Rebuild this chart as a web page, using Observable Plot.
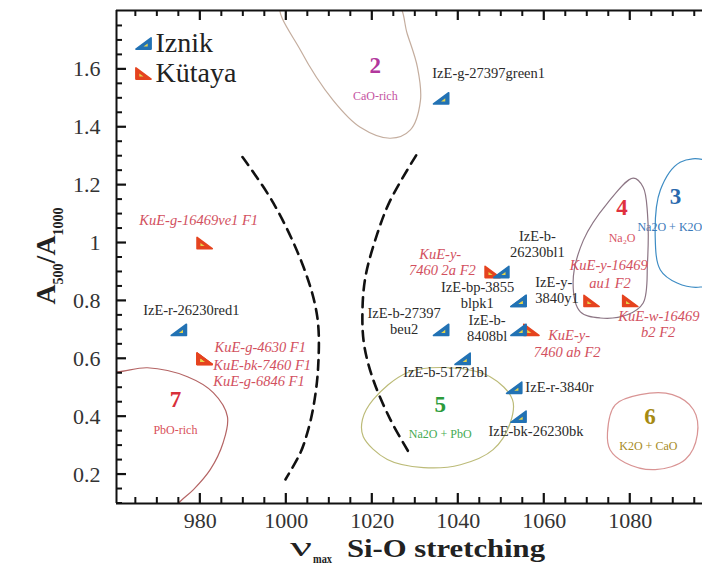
<!DOCTYPE html>
<html><head><meta charset="utf-8">
<script src="https://cdn.jsdelivr.net/npm/d3@7"></script>
<script src="https://cdn.jsdelivr.net/npm/@observablehq/plot@0.6"></script>
<style>body{margin:0;background:#fff}#chart svg{display:block}</style>
</head><body><div id="chart"></div>
<script>
// ---------- data ----------
const xDomain = [960.5, 1096.8];
const yDomain = [0.1, 1.8034];
const xMajorTicks = [980, 1000, 1020, 1040, 1060, 1080];
const xMinorTicks = d3.range(965, 1100, 5).filter(v => v % 20 !== 0);
const yMajorTicks = [0.2, 0.4, 0.6, 0.8, 1, 1.2, 1.4, 1.6];
const yMinorTicks = d3.range(2, 36).filter(i => i % 4 !== 0).map(i => i * 0.05);

const iznikSamples = ["IzE-g-27397green1","IzE-r-26230red1","IzE-b-26230bl1","IzE-bp-3855 blpk1","IzE-y-3840y1","IzE-b-27397 beu2","IzE-b-8408bl","IzE-b-51721bl","IzE-r-3840r","IzE-bk-26230bk"];
const iznikNu    = [1036, 975, 1050, 1054, 1054, 1036, 1054, 1041, 1053, 1054];
const iznikRatio = [1.5, 0.7, 0.9, 0.8, 0.8, 0.7, 0.7, 0.6, 0.5, 0.4];

const kutayaSamples = ["KuE-g-16469ve1 F1","KuE-g-4630 F1","KuE-bk-7460 F1","KuE-g-6846 F1","KuE-y-7460 2a F2","KuE-y-7460 ab F2","KuE-y-16469 au1 F2","KuE-w-16469 b2 F2"];
const kutayaNu    = [981, 981, 981, 981, 1048, 1057, 1071, 1080];
const kutayaRatio = [1.0, 0.6, 0.6, 0.6, 0.9, 0.7, 0.8, 0.8];

const legendNames = ["Iznik", "Kütaya"];

// annotation lines: [text, x, y, anchor]
const iznikNotes = [
  ["IzE-g-27397green1", 1033.95, 1.586, "start"],
  ["IzE-r-26230red1", 966.7, 0.766, "start"],
  ["IzE-b-27397", 1027.4, 0.7586, "middle"],
  ["beu2", 1027.4, 0.7034, "middle"],
  ["IzE-bp-3855", 1044.5, 0.8483, "middle"],
  ["blpk1", 1044.4, 0.7931, "middle"],
  ["IzE-b-", 1046.7, 0.734, "middle"],
  ["8408bl", 1046.7, 0.676, "middle"],
  ["IzE-b-", 1058.4, 1.0241, "middle"],
  ["26230bl1", 1058.4, 0.969, "middle"],
  ["IzE-y-", 1057.9, 0.8655, "start"],
  ["3840y1", 1057.9, 0.8103, "start"],
  ["IzE-b-51721bl", 1027.2, 0.552, "start"],
  ["IzE-r-3840r", 1055.6, 0.503, "start"],
  ["IzE-bk-26230bk", 1047.0, 0.348, "start"]
];
const kutayaNotes = [
  ["KuE-g-16469ve1 F1", 965.8, 1.079, "start"],
  ["KuE-g-4630 F1", 983.3, 0.641, "start"],
  ["KuE-bk-7460 F1", 983.0, 0.579, "start"],
  ["KuE-g-6846 F1", 983.0, 0.521, "start"],
  ["KuE-y-", 1035.8, 0.9621, "middle"],
  ["7460 2a F2", 1036.3, 0.9069, "middle"],
  ["KuE-y-16469", 1065.9, 0.9241, "start"],
  ["au1 F2", 1075.3, 0.862, "middle"],
  ["KuE-w-16469", 1077.2, 0.7483, "start"],
  ["b2 F2", 1086.5, 0.6897, "middle"],
  ["KuE-y-", 1060.9, 0.6793, "start"],
  ["7460 ab F2", 1065.3, 0.6207, "middle"]
];

// composition regions
const regionIds   = ["2", "3", "4", "5", "6", "7"];
const regionNames = ["CaO-rich", "Na2O + K2O", "Na\u2082O", "Na2O + PbO", "K2O + CaO", "PbO-rich"];
const regionNumX  = [1020.7, 1090.5, 1078.1, 1035.8, 1084.6, 974.2];
const regionNumY  = [1.614, 1.159, 1.121, 0.441, 0.400, 0.459];
const regionNameX = [1020.7, 1089.2, 1078.1, 1035.8, 1084.2, 974.2];
const regionNameY = [1.507, 1.055, 1.017, 0.338, 0.297, 0.352];

const region2Outline = [[998.6,1.83],[1003.3,1.666],[1010.9,1.493],[1017.2,1.40],[1024.2,1.362],[1028.8,1.39],[1031.2,1.493],[1030.5,1.607],[1028.1,1.724],[1025.8,1.83],[1012,1.9]];
const region3Outline = [[1091.6,1.279],[1087.0,1.183],[1085.8,1.021],[1087.0,0.907],[1090.9,0.862],[1096.3,0.848],[1101,0.88],[1104,1.02],[1103,1.2],[1097.5,1.285]];
const region4Outline = [[1080.7,1.224],[1074.7,1.138],[1069.1,1.01],[1066.7,0.862],[1068.4,0.762],[1073.0,0.741],[1079.3,0.752],[1083.0,0.793],[1084.0,0.931],[1084.0,1.103],[1083.0,1.193]];
const region5Outline = [[1017.7,0.390],[1020.2,0.459],[1028.1,0.552],[1038.1,0.569],[1047.4,0.538],[1052.6,0.459],[1052.1,0.379],[1048.1,0.286],[1040.5,0.234],[1031.9,0.224],[1023.5,0.252],[1017.9,0.331]];
const region6Outline = [[1074.7,0.345],[1076.5,0.441],[1082.3,0.476],[1089.8,0.476],[1094.7,0.424],[1095.6,0.338],[1092.8,0.252],[1085.8,0.217],[1078.8,0.241],[1075.3,0.286]];
const region7Outline = [[955,0.56],[960.7,0.555],[967.7,0.569],[977.0,0.538],[983.0,0.483],[986.3,0.40],[985.3,0.31],[982.3,0.217],[978.4,0.148],[975.3,0.107],[972,0.05]];

const dividerLeft  = [[989.8,1.297],[997.0,1.138],[1004.0,0.917],[1007.2,0.745],[1007.4,0.572],[1006.3,0.434],[1004.9,0.345],[1003.3,0.276],[999.8,0.183]];
const dividerRight = [[1030.2,1.303],[1024.2,1.148],[1021.2,1.034],[1018.4,0.883],[1017.7,0.759],[1018.1,0.648],[1020.2,0.528],[1024.2,0.39],[1028.8,0.269]];

// ---------- styles ----------
const BLUE = "#2272b4", RED = "#e5431f", HI = "#e6d44a";
const SERIF = "Liberation Serif, Times New Roman, serif";
const W = 702, H = 567, ML = 116, MRgt = 0, MT = 10, MB = 64;
const regionStyle = {
  "2": {outline: "#c4ad9e", num: "#b2379c", name: "#c4539f", closed: true,  data: region2Outline},
  "3": {outline: "#3d8cc4", num: "#2a69ad", name: "#3a79b9", closed: true,  data: region3Outline},
  "4": {outline: "#8c7584", num: "#e0303e", name: "#d85464", closed: true,  data: region4Outline},
  "5": {outline: "#bcbb78", num: "#2c9b3a", name: "#44aa52", closed: true,  data: region5Outline},
  "6": {outline: "#d99494", num: "#a68a12", name: "#a68a24", closed: true,  data: region6Outline},
  "7": {outline: "#b46464", num: "#d8303a", name: "#d85058", closed: false, data: region7Outline}
};

// marker shapes (right triangles)
const rad = s => Math.sqrt(s / Math.PI);
const triIznik  = {draw(c, s){ const r = rad(s), h = r*0.74; c.moveTo(-r, h); c.lineTo(r, h); c.lineTo(r, -h); c.closePath(); }};
const triKutaya = {draw(c, s){ const r = rad(s), h = r*0.74; c.moveTo(-r, -h); c.lineTo(-r, h); c.lineTo(r, h); c.closePath(); }};
const hiIznik   = {draw(c, s){ const r = rad(s), h = r*0.74; c.moveTo(0, h*0.55); c.lineTo(r*0.55, h*0.55); c.lineTo(r*0.55, 0); c.closePath(); }};
const hiKutaya  = {draw(c, s){ const r = rad(s), h = r*0.74; c.moveTo(-r*0.55, 0); c.lineTo(-r*0.55, h*0.55); c.lineTo(0, h*0.55); c.closePath(); }};

const iIdx = d3.range(iznikNu.length), kIdx = d3.range(kutayaNu.length);
const MSIZE = 7.6;

const regionMarks = regionIds.flatMap((id, i) => {
  const st = regionStyle[id];
  return [
    Plot.line(st.data, {x: d => d[0], y: d => d[1], curve: st.closed ? "catmull-rom-closed" : "catmull-rom", stroke: st.outline, strokeWidth: 1.2, clip: true}),
    Plot.text([id], {x: () => regionNumX[i], y: () => regionNumY[i], text: d => d, fill: st.num, fontSize: 23, fontWeight: "bold", fontFamily: SERIF}),
    Plot.text([regionNames[i]], {x: () => regionNameX[i], y: () => regionNameY[i], text: d => d, fill: st.name, fontSize: 12, fontFamily: SERIF})
  ];
});

const noteMarks = (notes, anchor, opts) => Plot.text(notes.filter(n => n[3] === anchor), {
  x: d => d[1], y: d => d[2], text: d => d[0], textAnchor: anchor, fontFamily: SERIF, fontSize: 14.5, ...opts
});

const chart = Plot.plot({
  width: W, height: H,
  marginLeft: ML, marginRight: MRgt, marginTop: MT, marginBottom: MB,
  x: {domain: xDomain},
  y: {domain: yDomain},
  style: {fontFamily: SERIF, background: "white", color: "#222", overflow: "visible"},
  marks: [
    ...regionMarks,
    Plot.line(dividerLeft,  {x: d => d[0], y: d => d[1], curve: "catmull-rom", stroke: "#111", strokeWidth: 2.6, strokeDasharray: "10,7"}),
    Plot.line(dividerRight, {x: d => d[0], y: d => d[1], curve: "catmull-rom", stroke: "#111", strokeWidth: 2.6, strokeDasharray: "10,7"}),
    // frame (top, left, bottom)
    Plot.ruleY([yDomain[0], yDomain[1]], {stroke: "#111", strokeWidth: 2}),
    Plot.ruleX([xDomain[0]], {stroke: "#111", strokeWidth: 2}),
    // tick labels
    Plot.axisX(xMajorTicks, {anchor: "bottom", tickSize: 0, tickPadding: 9, tickFormat: d => String(d), label: null, fontSize: 22, fill: "#333"}),
    Plot.axisY(yMajorTicks, {anchor: "left", tickSize: 0, tickPadding: 16, tickFormat: d => String(d), label: null, fontSize: 22, fill: "#333"}),
    // sample labels
    noteMarks(iznikNotes, "start", {fill: "#2a2a2a"}),
    noteMarks(iznikNotes, "middle", {fill: "#2a2a2a"}),
    noteMarks(kutayaNotes, "start", {fill: "#d2505e", fontStyle: "italic"}),
    noteMarks(kutayaNotes, "middle", {fill: "#d2505e", fontStyle: "italic"}),
    // markers
    Plot.dot(kIdx, {x: i => kutayaNu[i], y: i => kutayaRatio[i], r: MSIZE, symbol: triKutaya, fill: RED, stroke: RED, strokeWidth: 1.6, strokeLinejoin: "round"}),
    Plot.dot(kIdx, {x: i => kutayaNu[i], y: i => kutayaRatio[i], r: MSIZE, symbol: hiKutaya, fill: HI, stroke: null}),
    Plot.dot(iIdx, {x: i => iznikNu[i], y: i => iznikRatio[i], r: MSIZE, symbol: triIznik, fill: BLUE, stroke: BLUE, strokeWidth: 1.6, strokeLinejoin: "round"}),
    Plot.dot(iIdx, {x: i => iznikNu[i], y: i => iznikRatio[i], r: MSIZE, symbol: hiIznik, fill: HI, stroke: null}),
    // legend
    Plot.dot([legendNames[0]], {frameAnchor: "top-left", dx: 27, dy: 33, r: MSIZE, symbol: triIznik, fill: BLUE, stroke: BLUE, strokeWidth: 1.6, strokeLinejoin: "round"}),
    Plot.dot([legendNames[0]], {frameAnchor: "top-left", dx: 27, dy: 33, r: MSIZE, symbol: hiIznik, fill: HI, stroke: null}),
    Plot.dot([legendNames[1]], {frameAnchor: "top-left", dx: 27, dy: 63, r: MSIZE, symbol: triKutaya, fill: RED, stroke: RED, strokeWidth: 1.6, strokeLinejoin: "round"}),
    Plot.dot([legendNames[1]], {frameAnchor: "top-left", dx: 27, dy: 63, r: MSIZE, symbol: hiKutaya, fill: HI, stroke: null}),
    Plot.text([legendNames[0]], {frameAnchor: "top-left", dx: 39, dy: 33, text: d => d, textAnchor: "start", lineAnchor: "middle", fontSize: 28, fontFamily: SERIF, fill: "#222"}),
    Plot.text([legendNames[1]], {frameAnchor: "top-left", dx: 39, dy: 63, text: d => d, textAnchor: "start", lineAnchor: "middle", fontSize: 28, fontFamily: SERIF, fill: "#222"})
  ]
});

const svg = d3.select(chart);
const sx = chart.scale("x"), sy = chart.scale("y");
const frameTop = MT, frameBottom = H - MB, frameLeft = ML;

// inward ticks, positioned through Plot's scales
const tg = svg.append("g").attr("stroke", "#111").attr("fill", "none");
const addX = (vals, len, w) => vals.forEach(v => {
  const px = sx.apply(v);
  tg.append("line").attr("x1", px).attr("x2", px).attr("y1", frameBottom).attr("y2", frameBottom - len).attr("stroke-width", w);
  tg.append("line").attr("x1", px).attr("x2", px).attr("y1", frameTop).attr("y2", frameTop + len).attr("stroke-width", w);
});
const addY = (vals, len, w) => vals.forEach(v => {
  const py = sy.apply(v);
  tg.append("line").attr("x1", frameLeft).attr("x2", frameLeft + len).attr("y1", py).attr("y2", py).attr("stroke-width", w);
});
addX(xMinorTicks, 6, 2);
addX(xMajorTicks, 10, 2.2);
addY(yMinorTicks, 6, 2);
addY(yMajorTicks, 10, 2.2);

// y-axis title: A500/A1000
const yt = svg.append("text")
  .attr("transform", "translate(55,256) rotate(-90)")
  .attr("text-anchor", "middle")
  .attr("font-family", SERIF).attr("font-weight", "bold").attr("font-size", 28).attr("fill", "#222");
yt.append("tspan").text("A");
yt.append("tspan").attr("font-size", 14).attr("dy", 8).text("500");
yt.append("tspan").attr("dy", -8).text("/A");
yt.append("tspan").attr("font-size", 14).attr("dy", 8).text("1000");

// x-axis title: ν_max Si-O stretching (horizontally stretched like the original)
const xg = svg.append("g").attr("font-family", SERIF).attr("fill", "#222").attr("text-anchor", "start");
xg.append("text").attr("x", 290).attr("y", 556).attr("font-size", 27)
  .attr("textLength", 22).attr("lengthAdjust", "spacingAndGlyphs").text("\u03bd");
xg.append("text").attr("x", 313).attr("y", 563).attr("font-size", 12).attr("font-weight", "bold")
  .attr("textLength", 19).attr("lengthAdjust", "spacingAndGlyphs").text("max");
xg.append("text").attr("x", 347).attr("y", 557).attr("font-size", 26).attr("font-weight", "bold")
  .attr("textLength", 198).attr("lengthAdjust", "spacingAndGlyphs").text("Si-O stretching");

document.getElementById("chart").append(chart);
</script>
</body></html>
